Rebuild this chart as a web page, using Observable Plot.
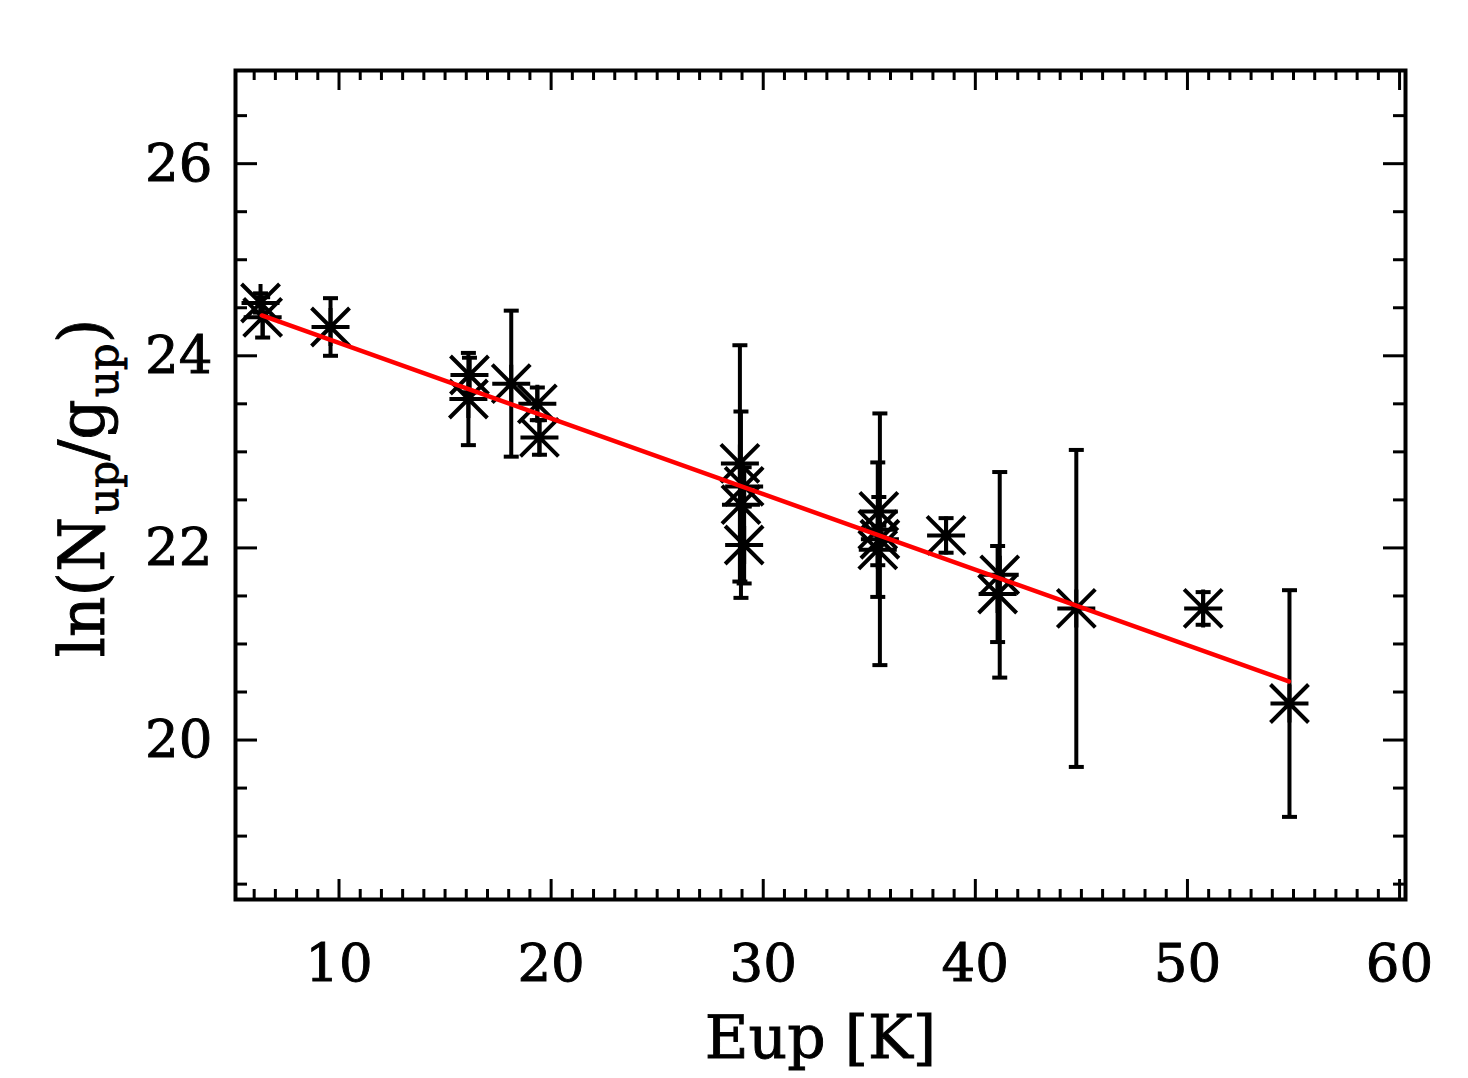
<!DOCTYPE html>
<html><head><meta charset="utf-8">
<script src="https://cdn.jsdelivr.net/npm/d3@7"></script>
<script src="https://cdn.jsdelivr.net/npm/@observablehq/plot@0.6"></script>
<style>body{margin:0;background:#fff} svg text{stroke:black;stroke-width:0.9px;paint-order:stroke}</style>
</head><body><div id="chart"></div>
<script>
// Measured points: upper-level energy (K), ln(Nup/gup), 1-sigma error
const eup = [6.30, 6.40, 9.60, 16.15, 16.10, 18.12, 19.35, 19.45, 28.90, 29.10, 28.95, 29.10, 35.45, 35.40, 35.50, 35.40, 38.62, 41.15, 41.05, 44.76, 50.74, 54.81];
const lnN = [24.55, 24.40, 24.30, 23.80, 23.55, 23.71, 23.50, 23.15, 22.88, 22.64, 22.45, 22.03, 22.38, 22.19, 22.09, 21.98, 22.13, 21.72, 21.52, 21.37, 21.37, 20.38];
const err = [0.10, 0.21, 0.30, 0.18, 0.48, 0.76, 0.17, 0.18, 1.23, 0.20, 0.97, 0.40, 0.15, 0.70, 1.31, 0.16, 0.18, 1.07, 0.50, 1.65, 0.17, 1.18];
// Linear fit (red line) endpoints
const fitEup = [6.36, 54.78];
const fitLn = [24.42, 20.61];
// Axis ticks
const xMajor = [10, 20, 30, 40, 50, 60];
const xMinor = d3.range(6, 61, 1).filter(v => v % 10 !== 0);
const yMajor = [20, 22, 24, 26];
const yMinor = d3.range(18.5, 26.6, 0.5).filter(v => v % 2 !== 0);
const xTitle = "Eup [K]";

const points = eup.map((x, i) => ({x, y: lnN[i], lo: lnN[i] - err[i], hi: lnN[i] + err[i]}));
const fit = fitEup.map((x, i) => ({x, y: fitLn[i]}));

const asterisk = {draw(ctx, size) {
  const r = Math.sqrt(size / Math.PI);
  ctx.moveTo(-r, 0); ctx.lineTo(r, 0);
  ctx.moveTo(0, -r); ctx.lineTo(0, r);
  ctx.moveTo(-r, -r); ctx.lineTo(r, r);
  ctx.moveTo(-r, r); ctx.lineTo(r, -r);
}};
const cap = {draw(ctx, size) {
  const r = Math.sqrt(size / Math.PI);
  ctx.moveTo(-r, 0); ctx.lineTo(r, 0);
}};

const W = 1468, H = 1078, mT = 70, mB = 179, mL = 235, mR = 63;
const FH = H - mT - mB, FW = W - mL - mR;
const SW = 4;

const chart = Plot.plot({
  width: W, height: H,
  marginTop: mT, marginBottom: mB, marginLeft: mL, marginRight: mR,
  style: {fontFamily: "DejaVu Serif", fontSize: "53px", background: "white", color: "black", overflow: "visible"},
  x: {domain: [5.12, 60.28], axis: null},
  y: {domain: [18.34, 26.97], axis: null},
  marks: [
    // minor and major ticks on all four sides
    Plot.tickX(xMinor, {x: d => d, insetTop: FH - 10, stroke: "black", strokeWidth: 3}),
    Plot.tickX(xMinor, {x: d => d, insetBottom: FH - 10, stroke: "black", strokeWidth: 3}),
    Plot.tickX(xMajor, {x: d => d, insetTop: FH - 20, stroke: "black", strokeWidth: 3}),
    Plot.tickX(xMajor, {x: d => d, insetBottom: FH - 20, stroke: "black", strokeWidth: 3}),
    Plot.tickY(yMinor, {y: d => d, insetRight: FW - 12, stroke: "black", strokeWidth: 3}),
    Plot.tickY(yMinor, {y: d => d, insetLeft: FW - 12, stroke: "black", strokeWidth: 3}),
    Plot.tickY(yMajor, {y: d => d, insetRight: FW - 22, stroke: "black", strokeWidth: 3}),
    Plot.tickY(yMajor, {y: d => d, insetLeft: FW - 22, stroke: "black", strokeWidth: 3}),
    Plot.axisX({ticks: xMajor, tickSize: 0, tickPadding: 44, tickFormat: d => String(d), label: null, anchor: "bottom"}),
    Plot.axisY({ticks: yMajor, tickSize: 0, tickPadding: 23, tickFormat: d => String(d), label: null, anchor: "left"}),
    Plot.frame({stroke: "black", strokeWidth: SW}),
    // error bars
    Plot.ruleX(points, {x: "x", y1: "lo", y2: "hi", stroke: "black", strokeWidth: SW}),
    Plot.dot(points, {x: "x", y: "lo", symbol: cap, r: 7.5, stroke: "black", fill: "none", strokeWidth: SW}),
    Plot.dot(points, {x: "x", y: "hi", symbol: cap, r: 7.5, stroke: "black", fill: "none", strokeWidth: SW}),
    // markers
    Plot.dot(points, {x: "x", y: "y", symbol: asterisk, r: 19, stroke: "black", fill: "none", strokeWidth: SW}),
    // fit
    Plot.line(fit, {x: "x", y: "y", stroke: "#ff0000", strokeWidth: 4.5}),
    Plot.text([xTitle], {text: d => d, frameAnchor: "bottom", dy: 139, fontSize: 60, lineAnchor: "middle"})
  ]
});

const svg = d3.select(chart);
const t = svg.append("text")
  .attr("transform", `translate(104,488) rotate(-90)`)
  .attr("text-anchor", "middle")
  .attr("font-family", "DejaVu Serif")
  .attr("font-size", 63)
  .attr("fill", "black");
t.append("tspan").text("ln(N");
t.append("tspan").attr("font-size", 42).attr("dx", 2).attr("dy", 14).text("up");
t.append("tspan").attr("dy", -14).text("/g");
t.append("tspan").attr("font-size", 42).attr("dx", 2).attr("dy", 14).text("up");
t.append("tspan").attr("dy", -14).text(")");

document.getElementById("chart").appendChild(chart);
</script>
</body></html>
